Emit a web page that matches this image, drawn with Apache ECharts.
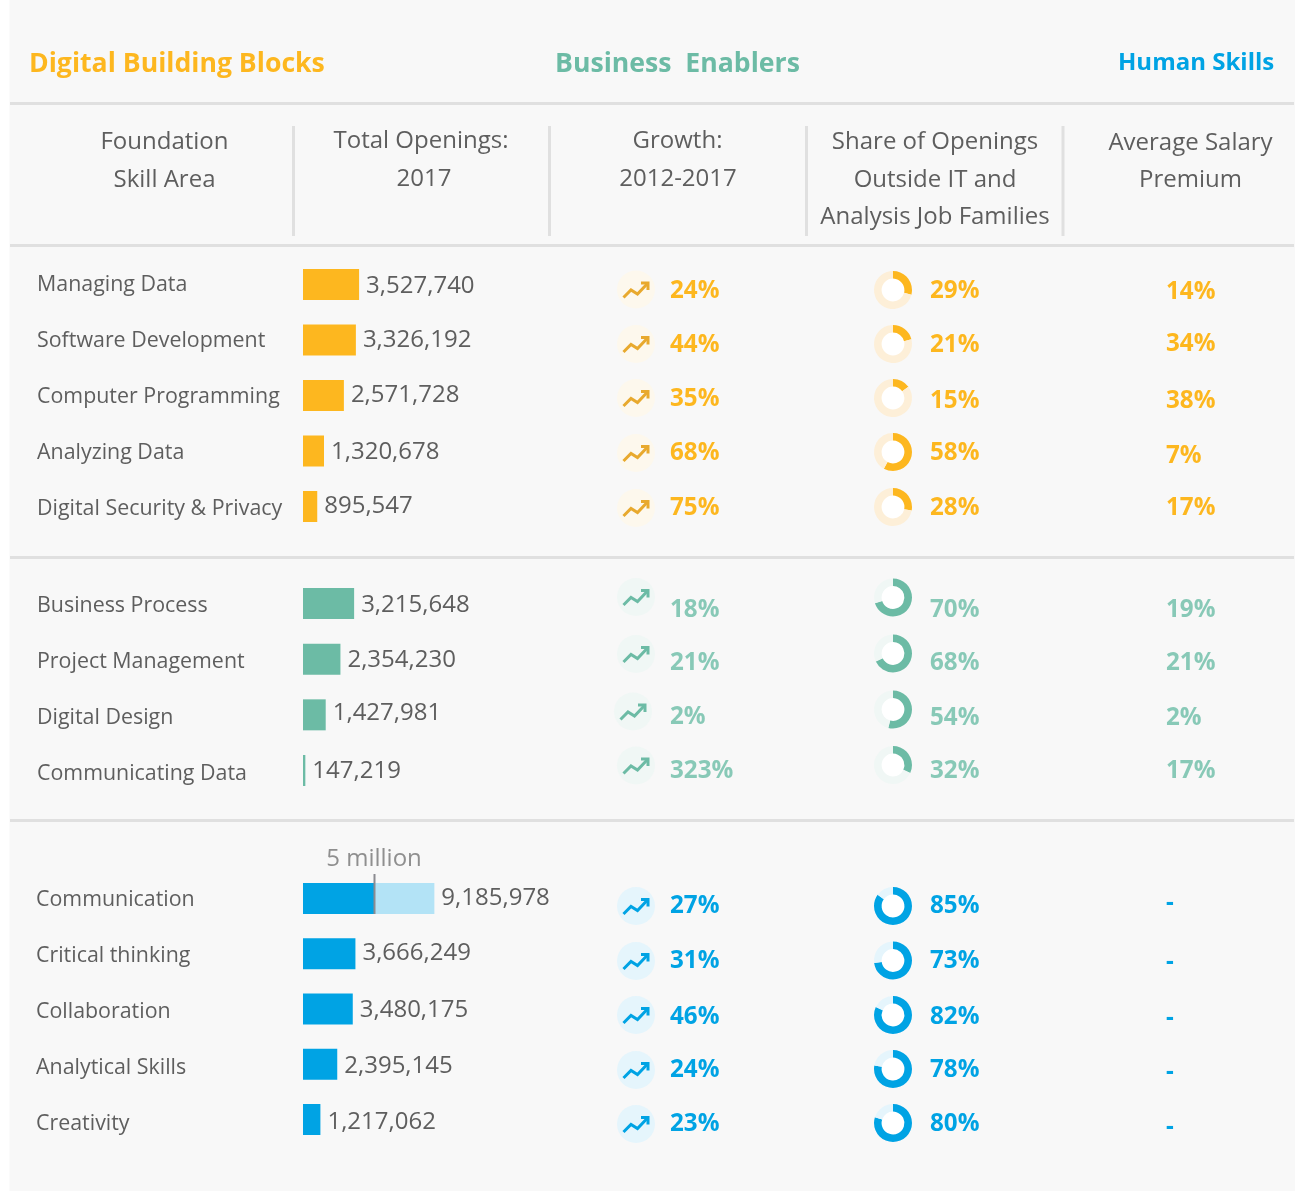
<!DOCTYPE html>
<html>
<head>
<meta charset="utf-8">
<style>html,body{margin:0;padding:0;background:#fff}#c{width:1297px;height:1191px}</style>
<script src="https://cdn.jsdelivr.net/npm/echarts@6/dist/echarts.min.js"></script>
</head>
<body>
<div id="c"></div>
<script>
// ---- data ----
const digitalSkills = ['Managing Data','Software Development','Computer Programming','Analyzing Data','Digital Security & Privacy'];
const digitalOpenings = [3527740,3326192,2571728,1320678,895547];
const digitalGrowth = [24,44,35,68,75];
const digitalShare = [29,21,15,58,28];
const digitalSalary = ['14%','34%','38%','7%','17%'];

const businessSkills = ['Business Process','Project Management','Digital Design','Communicating Data'];
const businessOpenings = [3215648,2354230,1427981,147219];
const businessGrowth = [18,21,2,323];
const businessShare = [70,68,54,32];
const businessSalary = ['19%','21%','2%','17%'];

const humanSkills = ['Communication','Critical thinking','Collaboration','Analytical Skills','Creativity'];
const humanOpenings = [9185978,3666249,3480175,2395145,1217062];
const humanGrowth = [27,31,46,24,23];
const humanShare = [85,73,82,78,80];
const humanSalary = ['-','-','-','-','-'];

const titles = ['Digital Building Blocks','Business  Enablers','Human Skills'];
const headers = [['Foundation','Skill Area'],['Total Openings:','2017'],['Growth:','2012-2017'],['Share of Openings','Outside IT and','Analysis Job Families'],['Average Salary','Premium']];
const referenceValue = 5000000;
const referenceLabel = '5 million';

// ---- layout ----
const FONT = '"Open Sans","Noto Sans",sans-serif';
const GREY = '#5e5e5e';
const LABEL_STEP = 56;
const sections = [
 {skills:digitalSkills,open:digitalOpenings,growth:digitalGrowth,share:digitalShare,salary:digitalSalary,
  color:'#fdb71f',text:'#fdb71f',arrow:'#e8a92e',icon:'#fdf8ed',track:'#fdefd8',
  top:256.75,height:277.5,width:159,labelMargin:266,
  labelTop:284.5,valueDy:[2,0,0,1,0],
  iconX:[636,636,636,636,636],iconY:[289.5,344,398,453,508],growthY:[291,345,399,453,508],
  donutY:[290,344,398,452,507],shareY:[291,345,401,453,508],salaryY:[292,344,401,456,508]},
 {skills:businessSkills,open:businessOpenings,growth:businessGrowth,share:businessShare,salary:businessSalary,
  color:'#6cbba5',text:'#88c9b7',arrow:'#6cbba5',icon:'#f0f7f5',track:'#f0f7f5',
  top:575.67,height:222.67,width:159,labelMargin:266,
  labelTop:605.5,valueDy:[2,1,-2,1],
  iconX:[636,636,633,636],iconY:[597,654,711.5,765.5],growthY:[610,663,717,771],
  donutY:[597.5,653.5,709.5,765],shareY:[610,663,718,771],salaryY:[610,663,718,771]},
 {skills:humanSkills,open:humanOpenings,growth:humanGrowth,share:humanShare,salary:humanSalary,
  color:'#00a3e4',text:'#00a3e4',arrow:'#00a3e4',icon:'#e5f5fc',track:'#e5f5fc',
  top:870.9,height:276.25,width:143,labelMargin:267,
  labelTop:899.5,valueDy:[0,-1,1,2,3],
  iconX:[636,636,636,636,636],iconY:[906,961,1015,1070,1124],growthY:[906,961,1017,1070,1124],
  donutY:[906,960.5,1015,1069,1123],shareY:[906,961,1017,1070,1124],salaryY:[903,962,1018,1072,1127]}
];

const grid=[],xAxis=[],yAxis=[],series=[],graphic=[];
const txt=(x,y,t,size,fill,weight,align)=>({type:'text',x,y,silent:true,z:5,style:{text:t,fill,font:`${weight||400} ${size}px ${FONT}`,textAlign:align||'left',textVerticalAlign:'middle'}});
const rule=(x1,y1,x2,y2,w)=>({type:'line',silent:true,z:1,shape:{x1,y1,x2,y2},style:{stroke:'#e0e0e0',lineWidth:w||3}});

// panel
graphic.push({type:'rect',silent:true,z:0,shape:{x:9.5,y:0,width:1285.5,height:1191},style:{fill:'#f8f8f8'}});
[103.5,245.5,557.5,820.5].forEach(y=>graphic.push(rule(10,y,1294,y,3)));
[293.5,549.5,806.5,1063].forEach(x=>graphic.push(rule(x,126,x,236,3)));

// titles and headers
graphic.push(txt(29,64,titles[0],26.65,'#fdb71f',700));
graphic.push(txt(555,64,titles[1],26.65,'#6cbba5',700));
graphic.push(txt(1118,63,titles[2],24,'#00a3e4',700));
const headX=[[164.5,164.5],[421,424],[677.5,678],[935,935,935],[1190.5,1190.5]];
const headY=[[142,180],[141,179],[141,179],[142,180,217],[143,180]];
headers.forEach((ls,i)=>ls.forEach((l,j)=>graphic.push(txt(headX[i][j],headY[i][j],l,24,GREY,400,'center'))));

function icon(cx,cy,s){
  graphic.push({type:'circle',silent:true,z:2,shape:{cx,cy,r:19},style:{fill:s.icon}});
  graphic.push({type:'polyline',silent:true,z:3,shape:{points:[[cx-12.5,cy+8],[cx-5,cy+0.5],[cx+1.5,cy+4.5],[cx+11.5,cy-6]]},style:{stroke:s.arrow,fill:null,lineWidth:3}});
  graphic.push({type:'polyline',silent:true,z:3,shape:{points:[[cx+5,cy-6.5],[cx+12,cy-6.5],[cx+12,cy+0.5]]},style:{stroke:s.arrow,fill:null,lineWidth:3}});
}

// bar grids: indices 0..2
sections.forEach((s,g)=>{
  grid.push({left:303,top:s.top,width:s.width,height:s.height});
  xAxis.push({gridIndex:g,type:'value',min:0,max:10000000,show:false});
  yAxis.push({gridIndex:g,type:'category',inverse:true,data:s.skills,show:false});
  series.push({type:'bar',xAxisIndex:g,yAxisIndex:g,stack:'s'+g,barWidth:31,silent:true,
    itemStyle:{color:s.color},data:s.open.map(v=>Math.min(v,g===2?referenceValue:Infinity))});
  series.push({type:'bar',xAxisIndex:g,yAxisIndex:g,stack:'s'+g,barWidth:31,silent:true,
    itemStyle:{color:'#b3e3f6'},
    label:{show:true,position:'right',distance:7,fontFamily:FONT,fontSize:24,color:GREY,
      formatter:p=>s.open[p.dataIndex].toLocaleString('en-US')},
    data:s.open.map((v,i)=>({value:g===2?Math.max(v-referenceValue,0):0,label:{offset:[0,s.valueDy[i]]}}))});
  s.share.forEach((v,i)=>{
    graphic.push({type:'circle',silent:true,z:0,shape:{cx:893,cy:s.donutY[i],r:12},style:{fill:'#fff'}});
    series.push({type:'pie',silent:true,center:[893,s.donutY[i]],radius:[11.4,19],startAngle:90,clockwise:true,
      label:{show:false},labelLine:{show:false},animation:false,emphasis:{disabled:true},
      data:[{value:v,itemStyle:{color:s.color}},{value:100-v,itemStyle:{color:s.track}}]});
    graphic.push(txt(930,s.shareY[i],v+'%',24.2,s.text,700));
  });
  s.growth.forEach((v,i)=>{
    icon(s.iconX[i],s.iconY[i],s);
    graphic.push(txt(670,s.growthY[i],v+'%',24.2,s.text,700));
  });
  s.salary.forEach((v,i)=>graphic.push(txt(1166,s.salaryY[i],v,24.2,s.text,700)));
});

// label grids: indices 3..5 (skill names run on their own slightly wider row spacing)
sections.forEach((s,g)=>{
  const idx=g+3;
  grid.push({left:303,top:s.labelTop-LABEL_STEP/2,width:s.width,height:LABEL_STEP*s.skills.length});
  xAxis.push({gridIndex:idx,type:'value',min:0,max:10000000,show:false});
  yAxis.push({gridIndex:idx,type:'category',inverse:true,data:s.skills,
    axisLine:{show:false},axisTick:{show:false},splitLine:{show:false},
    axisLabel:{interval:0,align:'left',margin:s.labelMargin,fontFamily:FONT,fontSize:21.4,color:GREY}});
});

// 5 million reference mark on the human-skills scale
series.push({type:'custom',xAxisIndex:2,yAxisIndex:2,silent:true,clip:false,z:5,
  data:[[referenceValue,0]],
  renderItem:(p,api)=>{
    const c=api.coord([api.value(0),api.value(1)]);
    return {type:'group',children:[
      {type:'line',shape:{x1:c[0],y1:c[1]-24.5,x2:c[0],y2:c[1]+15.5},style:{stroke:'#8b8b90',lineWidth:2}},
      {type:'text',style:{x:c[0]-0.5,y:c[1]-39.5,text:referenceLabel,fill:'#8f8f8f',font:`400 24px ${FONT}`,textAlign:'center',textVerticalAlign:'middle'}}
    ]};
  }});

const chart=echarts.init(document.getElementById('c'),null,{renderer:'canvas'});
chart.setOption({animation:false,backgroundColor:'#fff',tooltip:{show:false},grid,xAxis,yAxis,series,graphic:{elements:graphic}});
</script>
</body>
</html>
